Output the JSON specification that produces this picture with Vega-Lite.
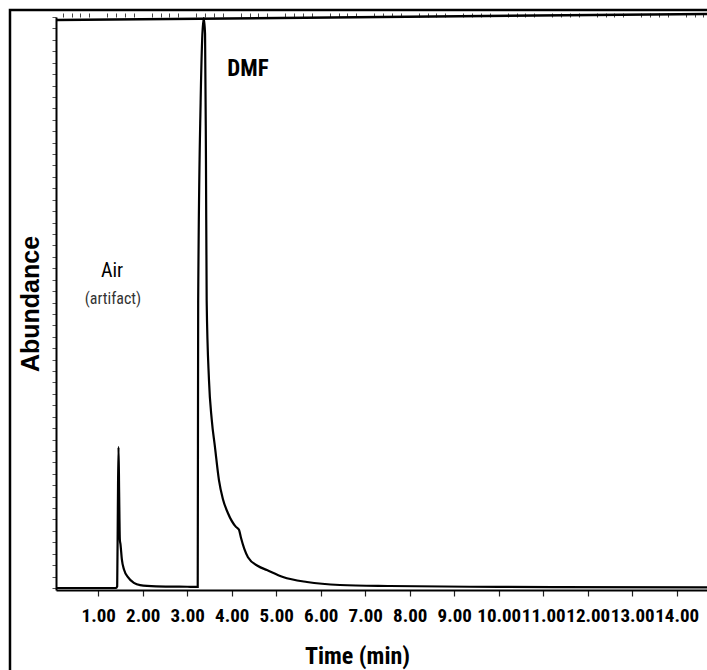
{
  "$schema": "https://vega.github.io/schema/vega-lite/v6.json",
  "autosize": {"type": "none"},
  "padding": {"left": 56, "top": 17, "right": 0, "bottom": 80},
  "width": 651,
  "height": 573,
  "background": "white",
  "config": {"view": {"stroke": null}, "font": "Liberation Sans"},
  "datasets": {
    "signal": [
      {"t": 0.05, "a": 0},
      {"t": 1.40, "a": 0},
      {"t": 1.425, "a": 0.3},
      {"t": 1.44, "a": 14},
      {"t": 1.455, "a": 24.7},
      {"t": 1.47, "a": 16},
      {"t": 1.485, "a": 8.5},
      {"t": 1.50, "a": 7.6},
      {"t": 1.53, "a": 5.0},
      {"t": 1.58, "a": 3.2},
      {"t": 1.667, "a": 1.9},
      {"t": 1.80, "a": 0.9},
      {"t": 1.94, "a": 0.5},
      {"t": 2.3, "a": 0.3},
      {"t": 3.0, "a": 0.22},
      {"t": 3.235, "a": 0.2},
      {"t": 3.245, "a": 50},
      {"t": 3.30, "a": 85},
      {"t": 3.37, "a": 99.8},
      {"t": 3.40, "a": 97},
      {"t": 3.42, "a": 75},
      {"t": 3.436, "a": 50.4},
      {"t": 3.488, "a": 36.4},
      {"t": 3.55, "a": 29.5},
      {"t": 3.622, "a": 24.7},
      {"t": 3.712, "a": 18.9},
      {"t": 3.80, "a": 15.6},
      {"t": 3.915, "a": 13.1},
      {"t": 4.094, "a": 10.7},
      {"t": 4.162, "a": 10.2},
      {"t": 4.207, "a": 8.8},
      {"t": 4.28, "a": 6.9},
      {"t": 4.364, "a": 5.4},
      {"t": 4.589, "a": 3.85},
      {"t": 4.79, "a": 3.15},
      {"t": 5.15, "a": 1.93},
      {"t": 5.69, "a": 1.05},
      {"t": 6.43, "a": 0.53},
      {"t": 7.55, "a": 0.35},
      {"t": 10.0, "a": 0.2},
      {"t": 14.68, "a": 0.12}
    ],
    "topline": [
      {"t": 0.05, "a": 99.47},
      {"t": 14.68, "a": 100.53}
    ],
    "frame": [
      {"t": -0.984, "t2": 20, "a": 101.23, "a2": -20}
    ],
    "labels": [
      {"t": 1.31, "a": 54.5, "text": "Air", "kind": "air"},
      {"t": 1.33, "a": 49.7, "text": "(artifact)", "kind": "artifact"},
      {"t": 3.90, "a": 89.7, "text": "DMF", "kind": "dmf"}
    ]
  },
  "resolve": {"axis": {"x": "independent"}},
  "layer": [
    {
      "data": {"name": "signal"},
      "mark": {"type": "line", "color": "black", "strokeWidth": 2.2, "interpolate": "monotone"},
      "encoding": {
        "x": {
          "field": "t", "type": "quantitative",
          "scale": {"domain": [0.05, 14.68], "nice": false, "zero": false},
          "axis": {
            "title": "Time (min)",
            "values": [1,2,3,4,5,6,7,8,9,10,11,12,13,14],
            "format": ".2f",
            "labelFont": "'Roboto Condensed', sans-serif",
            "labelFontWeight": "bold",
            "labelFontSize": 19,
            "labelColor": "black",
            "labelPadding": 10,
            "labelOverlap": false,
            "labelFlush": false,
            "tickSize": 6,
            "tickColor": "#222",
            "tickWidth": 1.2,
            "domainColor": "black",
            "domainWidth": 2,
            "grid": false,
            "titleFont": "'Roboto Condensed', sans-serif",
            "titleFontWeight": "bold",
            "titleFontSize": 24,
            "titleColor": "black",
            "titlePadding": 19,
            "titleX": 301,
            "titleAlign": "center"
          }
        },
        "y": {
          "field": "a", "type": "quantitative",
          "scale": {"domain": [-0.35, 100], "nice": false, "zero": false},
          "axis": {
            "title": "Abundance",
            "labels": false,
            "tickCount": 60,
            "tickSize": 4,
            "tickColor": "#555",
            "tickWidth": 1,
            "domainColor": "black",
            "domainWidth": 2,
            "grid": false,
            "titleFont": "Liberation Sans",
            "titleFontWeight": "bold",
            "titleFontSize": 25,
            "titleColor": "black",
            "titlePadding": 8
          }
        }
      }
    },
    {
      "data": {"name": "topline"},
      "mark": {"type": "line", "color": "black", "strokeWidth": 2.5, "clip": false},
      "encoding": {
        "x": {
          "field": "t", "type": "quantitative",
          "axis": {
            "title": null,
            "labels": false,
            "domain": false,
            "grid": false,
            "values": [0.2,0.4,0.6,0.8,1.2,1.4,1.6,1.8,2.2,2.4,2.6,2.8,3.2,3.4,3.6,3.8,4.2,4.4,4.6,4.8,5.2,5.4,5.6,5.8,6.2,6.4,6.6,6.8,7.2,7.4,7.6,7.8,8.2,8.4,8.6,8.8,9.2,9.4,9.6,9.8,10.2,10.4,10.6,10.8,11.2,11.4,11.6,11.8,12.2,12.4,12.6,12.8,13.2,13.4,13.6,13.8,14.2,14.4,14.6],
            "tickSize": 4,
            "tickColor": "#444",
            "tickWidth": 1
          }
        },
        "y": {"field": "a", "type": "quantitative"}
      }
    },
    {
      "data": {"name": "frame"},
      "mark": {"type": "rect", "fill": null, "stroke": "black", "strokeWidth": 2.5, "clip": false},
      "encoding": {
        "x": {"field": "t", "type": "quantitative", "axis": null},
        "x2": {"field": "t2"},
        "y": {"field": "a", "type": "quantitative"},
        "y2": {"field": "a2"}
      }
    },
    {
      "data": {"name": "labels"},
      "transform": [{"filter": "datum.kind === 'dmf'"}],
      "mark": {"type": "text", "font": "'Roboto Condensed', sans-serif", "fontWeight": "bold", "fontSize": 23, "align": "left", "baseline": "alphabetic", "color": "black"},
      "encoding": {
        "x": {"field": "t", "type": "quantitative", "axis": null},
        "y": {"field": "a", "type": "quantitative"},
        "text": {"field": "text"}
      }
    },
    {
      "data": {"name": "labels"},
      "transform": [{"filter": "datum.kind === 'air'"}],
      "mark": {"type": "text", "font": "'Roboto Condensed', sans-serif", "fontSize": 20, "align": "center", "baseline": "alphabetic", "color": "black"},
      "encoding": {
        "x": {"field": "t", "type": "quantitative", "axis": null},
        "y": {"field": "a", "type": "quantitative"},
        "text": {"field": "text"}
      }
    },
    {
      "data": {"name": "labels"},
      "transform": [{"filter": "datum.kind === 'artifact'"}],
      "mark": {"type": "text", "font": "'Roboto Condensed', sans-serif", "fontSize": 16, "align": "center", "baseline": "alphabetic", "color": "#333"},
      "encoding": {
        "x": {"field": "t", "type": "quantitative", "axis": null},
        "y": {"field": "a", "type": "quantitative"},
        "text": {"field": "text"}
      }
    }
  ]
}
